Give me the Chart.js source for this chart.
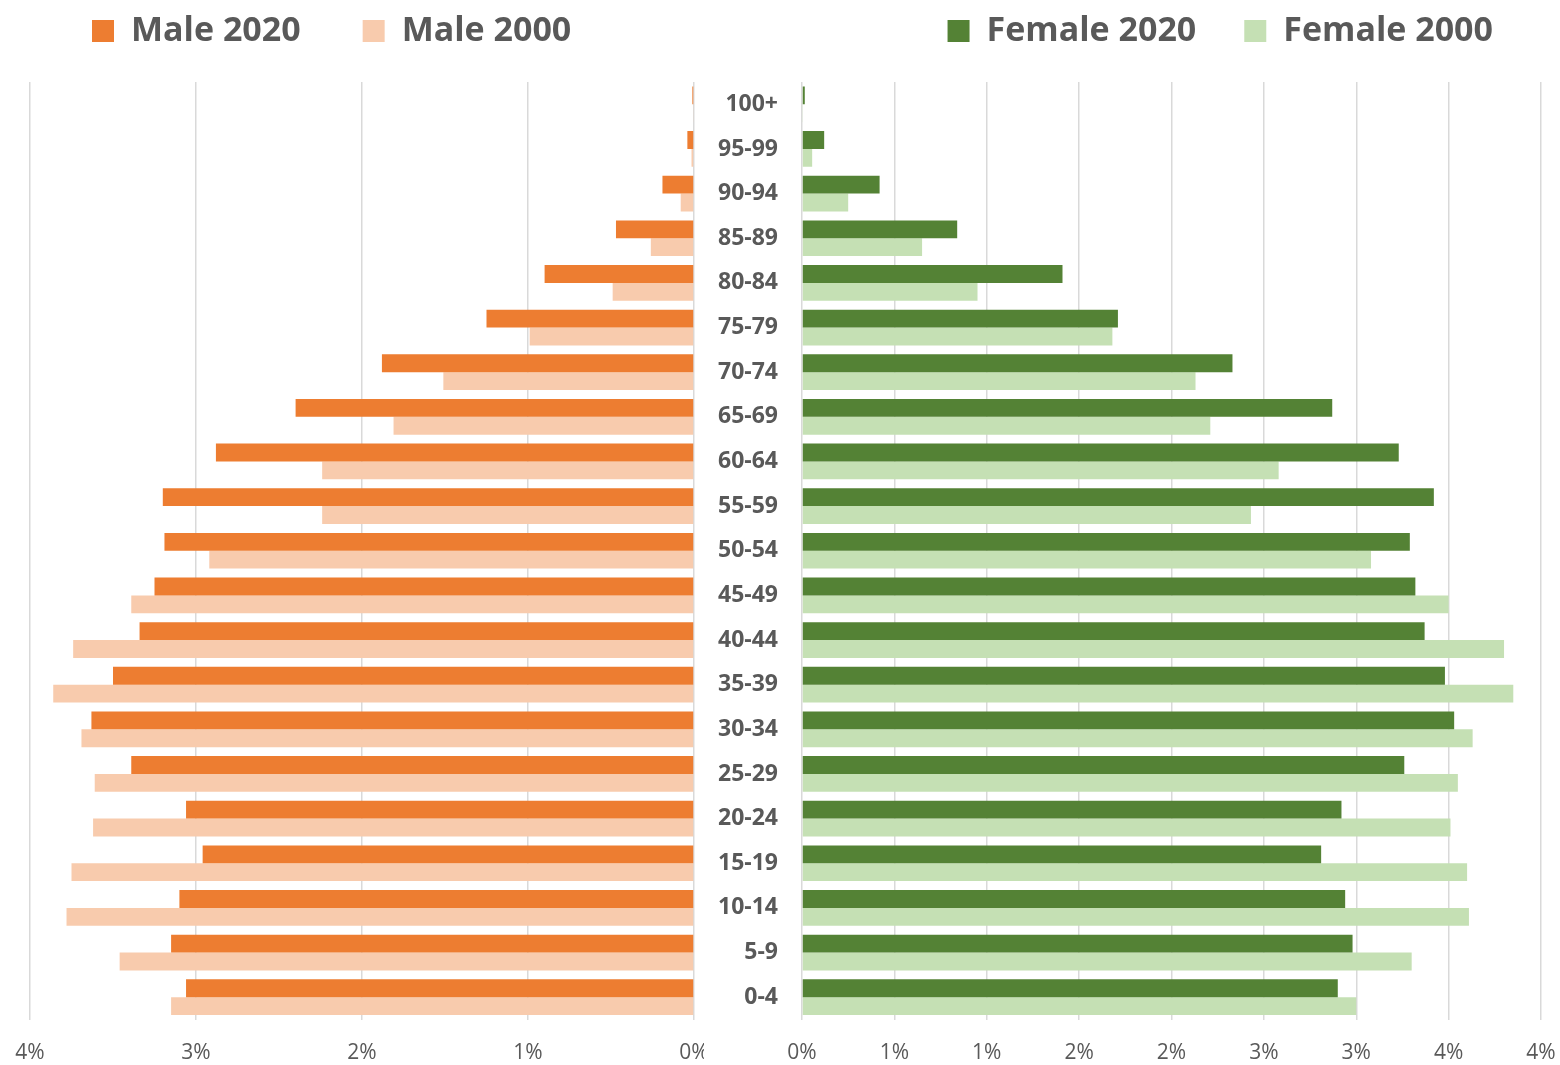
<!DOCTYPE html>
<html>
<head>
<meta charset="utf-8">
<title>Population pyramid 2000 / 2020</title>
<script src="https://cdn.jsdelivr.net/npm/chart.js@4.4.1/dist/chart.umd.min.js"></script>
<style>
  body { margin: 0; background: #fff; }
  #wrap { position: relative; width: 1560px; height: 1065px; overflow: hidden; }
  #boxL { position: absolute; left: 0; top: 0; width: 720px; height: 1065px; }
  #boxR { position: absolute; left: 704px; top: 0; width: 856px; height: 1065px; background: #fff; z-index: 1; }
</style>
</head>
<body>
<div id="wrap">
  <div id="boxL"><canvas id="gL"></canvas></div>
  <div id="boxR"><canvas id="gR"></canvas></div>
</div>
<script>
//age groups, top of the pyramid first
var ageGroups = ['100+', '95-99', '90-94', '85-89', '80-84', '75-79', '70-74', '65-69', '60-64', '55-59',
  '50-54', '45-49', '40-44', '35-39', '30-34', '25-29', '20-24', '15-19', '10-14', '5-9', '0-4'];

//share of population in %
var male2020 = [0.01, 0.04, 0.19, 0.47, 0.90, 1.25, 1.88, 2.40, 2.88, 3.20,
  3.19, 3.25, 3.34, 3.50, 3.63, 3.39, 3.06, 2.96, 3.10, 3.15, 3.06];
var male2000 = [0.004, 0.015, 0.08, 0.26, 0.49, 0.99, 1.51, 1.81, 2.24, 2.24,
  2.92, 3.39, 3.74, 3.86, 3.69, 3.61, 3.62, 3.75, 3.78, 3.46, 3.15];
var female2020 = [0.015, 0.12, 0.42, 0.84, 1.41, 1.71, 2.33, 2.87, 3.23, 3.42,
  3.29, 3.32, 3.37, 3.48, 3.53, 3.26, 2.92, 2.81, 2.94, 2.98, 2.90];
var female2000 = [0.005, 0.055, 0.25, 0.65, 0.95, 1.68, 2.13, 2.21, 2.58, 2.43,
  3.08, 3.50, 3.80, 3.85, 3.63, 3.55, 3.51, 3.60, 3.61, 3.30, 3.00];

//axis tick texts, left to right (right side is in 0.5% steps, rounded like the original)
var leftTicks = ['4%', '3%', '2%', '1%', '0%'];
var rightTicks = ['0%', '1%', '1%', '2%', '2%', '3%', '3%', '4%', '4%'];

Chart.defaults.font.family = "'Open Sans', sans-serif";
Chart.defaults.color = '#595959';
Chart.defaults.animation = false;

var grey = '#595959';
var gridColor = '#d9d9d9';

function legendOpts(align, pad) {
  return {
    align: align,
    weight: 3000,
    fullSize: false,
    labels: {
      padding: pad,
      boxWidth: 22,
      boxHeight: 22,
      color: grey,
      font: { size: 34, weight: 'bold' }
    }
  };
}

//empty title = gap between legend and plot
var spacer = { display: true, text: '', padding: { top: 0, bottom: 14 }, font: { size: 10, lineHeight: 1 } };

function bars(label, data, color) {
  return { label: label, data: data, backgroundColor: color, categoryPercentage: 0.8, barPercentage: 1.0 };
}

//x axis shared look; tall line height pushes the labels down
function xAxis(step, texts, rev) {
  return {
    reverse: rev,
    min: 0,
    max: 4,
    ticks: {
      stepSize: step,
      padding: 0,
      color: grey,
      font: { size: 21, lineHeight: 3.2 },
      callback: function(v, i) { return texts[i]; }
    },
    grid: { color: gridColor, lineWidth: 1.5, drawTicks: false },
    border: { display: false },
    afterFit: function(s) { s.height = 45.5; }
  };
}

//Male side
var chartL = new Chart(document.getElementById('gL'), {
  type: 'bar',
  data: {
    labels: ageGroups,
    datasets: [
      bars('Male 2020', male2020, '#ED7D31'),
      bars('Male 2000', male2000, '#F8CBAD')
    ]
  },
  options: {
    indexAxis: 'y',
    responsive: true,
    maintainAspectRatio: false,
    layout: { padding: { left: 30, right: 26, top: -48, bottom: 0 } },
    plugins: {
      legend: legendOpts('start', 62),
      title: spacer,
      tooltip: { enabled: false }
    },
    scales: {
      x: xAxis(1, leftTicks, true),
      y: { display: false }
    }
  }
});

//Female side
var chartR = new Chart(document.getElementById('gR'), {
  type: 'bar',
  data: {
    labels: ageGroups,
    datasets: [
      bars('Female 2020', female2020, '#548235'),
      bars('Female 2000', female2000, '#C5E0B4')
    ]
  },
  options: {
    indexAxis: 'y',
    responsive: true,
    maintainAspectRatio: false,
    layout: { padding: { left: 0, right: 19, top: -34, bottom: 0 } },
    plugins: {
      legend: legendOpts('end', 48),
      title: spacer,
      tooltip: { enabled: false }
    },
    scales: {
      x: xAxis(0.5, rightTicks, false),
      y: {
        position: 'left',
        grid: { display: false, drawTicks: false },
        border: { display: false },
        ticks: { padding: 24, color: grey, font: { size: 23, weight: 'bold' } },
        afterFit: function(s) { s.width = 98; }
      }
    }
  }
});
</script>
</body>
</html>
